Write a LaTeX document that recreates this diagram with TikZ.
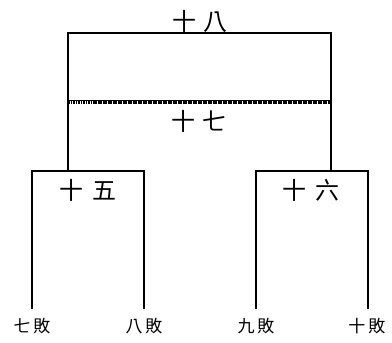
\documentclass[tikz,border=0pt]{standalone}
\usepackage{fontspec}
\newfontfamily\cjk{Noto Sans CJK TC}
\begin{document}
\begin{tikzpicture}[x=1pt,y=-1pt,
  bline/.style={line width=1.8pt},
  big/.style={font=\cjk\fontsize{24}{24}\selectfont, inner sep=0pt},
  small/.style={font=\cjk\fontsize{17}{17}\selectfont, inner sep=0pt}]
\useasboundingbox (0,0) rectangle (392,343);
% labels
\node[big] (n18) at (200,21) {十\hspace{7pt}八};
\node[big] (n17) at (199,121) {十\hspace{7pt}七};
\node[big] (n15) at (88,190) {十\hspace{9pt}五};
\node[big] (n16) at (311,190) {十\hspace{9pt}六};
\node[small] (l7) at (32,326) {七\hspace{3pt}敗};
\node[small] (l8) at (144,326) {八\hspace{3pt}敗};
\node[small] (l9) at (256,326) {九\hspace{3pt}敗};
\node[small] (l10) at (367,326) {十\hspace{3pt}敗};
% coordinates
\coordinate (tl) at (68,33);
\coordinate (tr) at (331,33);
\coordinate (ml) at (68,102);
\coordinate (mr) at (331,102);
\coordinate (al) at (68,171);
\coordinate (ar) at (331,171);
\coordinate (b1) at (32,171);
\coordinate (b2) at (144,171);
\coordinate (b3) at (256,171);
\coordinate (b4) at (368,171);
\coordinate (e1) at (32,309);
\coordinate (e2) at (144,309);
\coordinate (e3) at (256,309);
\coordinate (e4) at (368,309);
% top bracket
\draw[bline] (al) -- (tl) -- (tr) -- (ar);
\draw[line width=3pt, dash pattern=on 1.6pt off 0.9pt] (ml) -- (mr);
\draw[line width=1pt] ([yshift=1.2pt]ml) -- ([yshift=1.2pt]mr);
% lower brackets
\draw[bline] (e1) -- (b1) -- (b2) -- (e2);
\draw[bline] (e3) -- (b3) -- (b4) -- (e4);
\end{tikzpicture}
\end{document}
